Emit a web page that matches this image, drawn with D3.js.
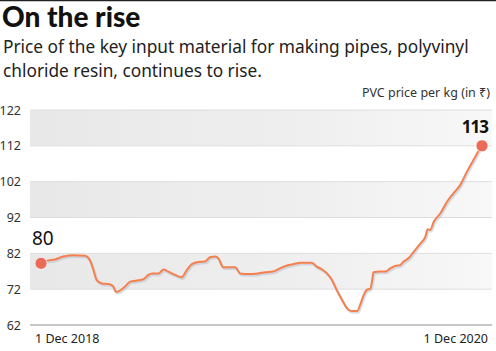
<!DOCTYPE html>
<html>
<head>
<meta charset="utf-8">
<script src="https://cdn.jsdelivr.net/npm/d3@7"></script>
<style>
  body { margin: 0; background: #fff; }
  svg { display: block; font-family: 'Noto Sans', sans-serif; }
</style>
</head>
<body>
<svg id="chart"></svg>
<script>
// PVC resin price (Rs per kg), days counted from 1 Dec 2018
const startDate = '2018-12-01';
const endDate = '2020-12-01';
const dayOffsets = [0, 9, 23, 37, 54, 73, 81, 87, 92, 101, 114, 120, 124, 131, 139, 148, 159, 170, 178,
  184, 195, 203, 211, 222, 233, 242, 250, 261, 272, 280, 289, 294, 302, 311, 322, 330, 344, 360, 372,
  385, 396, 408, 419, 430, 449, 457, 466, 474, 482, 490, 499, 507, 515, 524, 529, 535, 540, 546, 549,
  551, 562, 571, 579, 587, 595, 601, 609, 618, 629, 637, 641, 645, 651, 662, 673, 684, 695, 706, 717,
  728, 731];
const prices = [79.2, 79.9, 80.3, 81.1, 81.5, 81.3, 80.1, 77.3, 74.6, 73.6, 73.4, 72.7, 71.3, 71.6, 72.7,
  74.1, 74.4, 74.8, 76.0, 76.4, 76.4, 77.5, 76.9, 76.0, 75.3, 77.4, 79.0, 79.6, 79.7, 80.9, 81.1, 80.6,
  78.1, 78.1, 78.1, 76.4, 76.2, 76.4, 76.7, 76.9, 77.8, 78.6, 79.0, 79.4, 79.4, 78.3, 77.5, 76.4, 74.6,
  71.8, 69.0, 66.7, 65.9, 65.9, 67.6, 70.4, 71.8, 72.2, 74.6, 76.7, 76.9, 76.9, 77.8, 78.5, 78.7, 79.7,
  80.6, 82.5, 84.8, 86.6, 88.7, 88.5, 90.8, 93.2, 96.4, 98.8, 101.1, 104.8, 108.1, 111.3, 112.0];
const yTicks = [62, 72, 82, 92, 102, 112, 122];
const bands = [[72, 82], [92, 102], [112, 122]];
const xLabels = ['1 Dec 2018', '1 Dec 2020'];
const startLabel = '80';
const endLabel = '113';

const title = 'On the rise';
const subtitle = ['Price of the key input material for making pipes, polyvinyl',
  'chloride resin, continues to rise.'];
const unitLabel = 'PVC price per kg (in ₹)';

const config = {
  containerWidth: 496,
  containerHeight: 351,
  margin: { top: 110, bottom: 26, right: 4, left: 30 }
};

const width = config.containerWidth - config.margin.left - config.margin.right;
const height = config.containerHeight - config.margin.top - config.margin.bottom;

const svg = d3.select('#chart')
    .attr('width', config.containerWidth)
    .attr('height', config.containerHeight);

// top rule
svg.append('line')
    .attr('x1', 0).attr('x2', config.containerWidth)
    .attr('y1', 0.5).attr('y2', 0.5)
    .attr('stroke', '#222')
    .attr('stroke-width', 1.5);

svg.append('text')
    .attr('x', 2)
    .attr('y', 27)
    .attr('font-weight', 900)
    .style('font-family', "Lato, 'Noto Sans', sans-serif")
    .style('font-size', '28px')
    .attr('fill', '#111')
    .text(title);

svg.selectAll('.sub')
    .data(subtitle)
    .join('text')
    .attr('class', 'sub')
    .attr('x', 3)
    .attr('y', (d, i) => 53 + i * 24)
    .style('font-size', '17.3px')
    .attr('fill', '#222')
    .text(d => d);

svg.append('text')
    .attr('x', 490)
    .attr('y', 97)
    .attr('text-anchor', 'end')
    .style('font-size', '12.5px')
    .attr('fill', '#333')
    .text(unitLabel);

const defs = svg.append('defs');
const grad = defs.append('linearGradient')
    .attr('id', 'bandGrad')
    .attr('x1', '0%').attr('x2', '100%');
grad.append('stop').attr('offset', '0%').attr('stop-color', '#e8e8e8');
grad.append('stop').attr('offset', '60%').attr('stop-color', '#efefef');
grad.append('stop').attr('offset', '100%').attr('stop-color', '#f8f8f8');

const chart = svg.append('g')
    .attr('transform', `translate(${config.margin.left},${config.margin.top})`);

const parse = d3.timeParse('%Y-%m-%d');
const t0 = parse(startDate);
const data = dayOffsets.map((d, i) => ({ date: d3.timeDay.offset(t0, d), value: prices[i] }));

const xScale = d3.scaleTime()
    .domain([t0, parse(endDate)])
    .range([11, 452]);

const yScale = d3.scaleLinear()
    .domain([62, 122])
    .range([height, 0]);

// grey bands
chart.selectAll('.band')
    .data(bands)
    .join('rect')
    .attr('class', 'band')
    .attr('x', 0)
    .attr('width', width)
    .attr('y', d => yScale(d[1]))
    .attr('height', d => yScale(d[0]) - yScale(d[1]))
    .attr('fill', 'url(#bandGrad)');

// gridlines
chart.selectAll('.grid')
    .data(yTicks)
    .join('line')
    .attr('class', 'grid')
    .attr('x1', 0).attr('x2', width)
    .attr('y1', d => yScale(d)).attr('y2', d => yScale(d))
    .attr('stroke', d => d === 62 ? '#b5b5b5' : '#dedede')
    .attr('stroke-width', d => d === 62 ? 1.5 : 1);

const yAxis = d3.axisLeft(yScale).tickValues(yTicks).tickSize(0).tickPadding(9);
const yAxisG = chart.append('g').call(yAxis);
yAxisG.select('.domain').remove();
yAxisG.selectAll('text')
    .style('font-size', '12.5px')
    .style('font-family', "'Noto Sans', sans-serif")
    .attr('fill', '#333');

// x labels at the ends
chart.selectAll('.xlab')
    .data(xLabels)
    .join('text')
    .attr('class', 'xlab')
    .attr('x', (d, i) => i === 0 ? xScale(t0) - 6 : xScale(parse(endDate)) + 6)
    .attr('y', height + 18)
    .attr('text-anchor', (d, i) => i === 0 ? 'start' : 'end')
    .style('font-size', '12.5px')
    .attr('fill', '#222')
    .text(d => d);

const line = d3.line()
    .x(d => xScale(d.date))
    .y(d => yScale(d.value))
    .curve(d3.curveMonotoneX);

// soft shadow under the line
chart.append('path')
    .datum(data)
    .attr('fill', 'none')
    .attr('stroke', '#b8bfcc')
    .attr('stroke-opacity', 0.55)
    .attr('stroke-width', 2.5)
    .attr('transform', 'translate(1,1.5)')
    .attr('d', line);

chart.append('path')
    .datum(data)
    .attr('fill', 'none')
    .attr('stroke', '#f5804f')
    .attr('stroke-width', 2)
    .attr('stroke-linejoin', 'round')
    .attr('d', line);

const ends = [data[0], data[data.length - 1]];
chart.selectAll('.dot')
    .data(ends)
    .join('circle')
    .attr('class', 'dot')
    .attr('cx', d => xScale(d.date))
    .attr('cy', d => yScale(d.value))
    .attr('r', 6)
    .attr('fill', '#e96b58')
    .attr('stroke', '#fff')
    .attr('stroke-opacity', 0.7)
    .attr('stroke-width', 1);

chart.append('text')
    .attr('x', xScale(ends[0].date) - 9)
    .attr('y', yScale(ends[0].value) - 18)
    .style('font-size', '19px')
    .attr('fill', '#111')
    .text(startLabel);

chart.append('text')
    .attr('x', xScale(ends[1].date) + 6)
    .attr('y', yScale(ends[1].value) - 13)
    .attr('text-anchor', 'end')
    .attr('font-weight', 'bold')
    .style('font-size', '17px')
    .style('letter-spacing', '-1px')
    .attr('fill', '#111')
    .text(endLabel);
</script>
</body>
</html>
